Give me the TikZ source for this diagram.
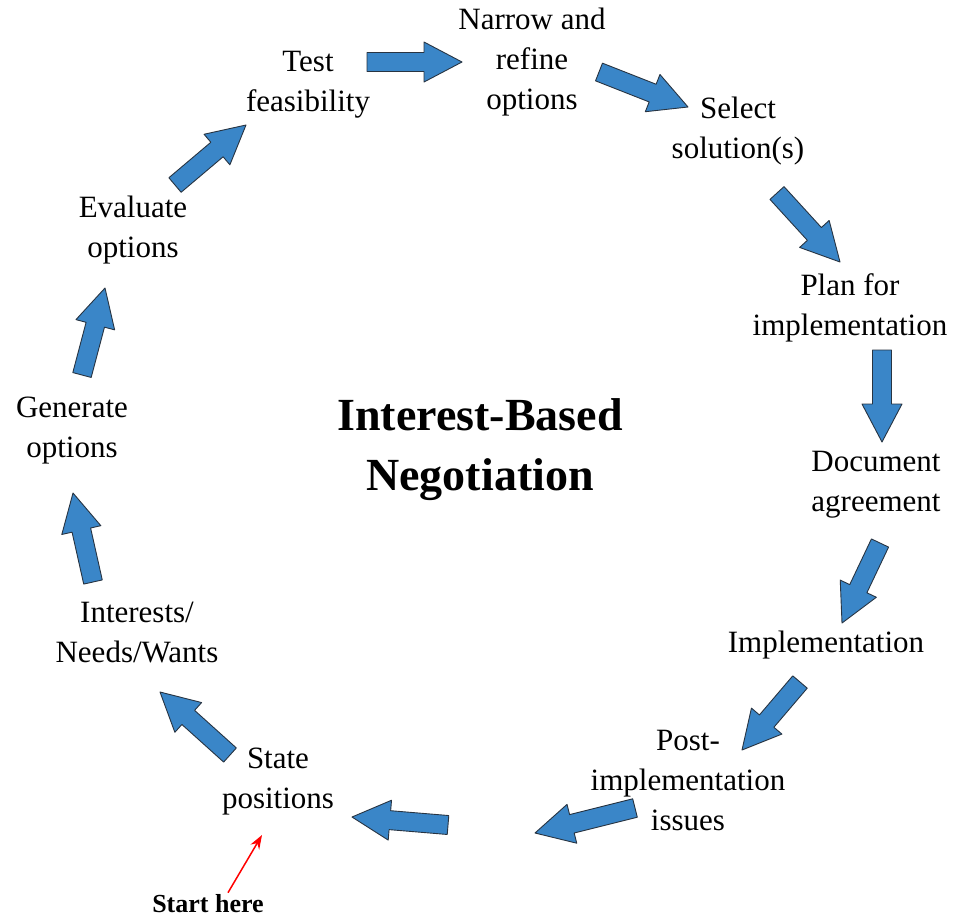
\documentclass[tikz,border=0pt]{standalone}
\usepackage{fontspec}
\setmainfont{Liberation Serif}
\usetikzlibrary{calc,arrows.meta}
\definecolor{arrowblue}{RGB}{58,134,200}
\definecolor{arrowedge}{RGB}{40,52,66}
\tikzset{
  lbl/.style={align=center,inner sep=0pt,font=\fontsize{31}{40}\selectfont},
  titletext/.style={align=center,inner sep=0pt,font=\fontsize{46}{60}\selectfont\bfseries},
  blockarrow/.style={fill=arrowblue,draw=arrowedge,line width=0.9pt,line join=round},
}
% block arrow from tail coordinate #1 to tip coordinate #2
\newcommand\barrow[2]{%
  \coordinate (hb) at ($(#2)!38pt!(#1)$);
  \draw[blockarrow]
    ($(#1)!9.5pt!90:(#2)$) -- ($(hb)!9.5pt!90:(#2)$) -- ($(hb)!20pt!90:(#2)$)
    -- (#2) -- ($(hb)!20pt!-90:(#2)$) -- ($(hb)!9.5pt!-90:(#2)$)
    -- ($(#1)!9.5pt!-90:(#2)$) -- cycle;}
\begin{document}
\begin{tikzpicture}[x=1pt,y=-1pt]
\useasboundingbox (0,0) rectangle (961,922);
\fill[white] (0,0) rectangle (961,922);

\node[lbl] (test) at (308,85) {Test\\feasibility};
\node[lbl] (narrow) at (532,62) {Narrow and\\refine\\options};
\node[lbl] (select) at (738,131) {Select\\solution(s)};
\node[lbl] (plan) at (850,308) {Plan for\\implementation};
\node[lbl] (doc) at (876,485) {Document\\agreement};
\node[lbl] (impl) at (826,645) {Implementation};
\node[lbl] (post) at (688,780) {Post-\\implementation\\issues};
\node[lbl] (state) at (278,782) {State\\positions};
\node[lbl] (interests) at (137,633) {Interests/\\Needs/Wants};
\node[lbl] (generate) at (72,431) {Generate\\options};
\node[lbl] (evaluate) at (133,230) {Evaluate\\options};
\node[titletext] (title) at (480,450) {Interest-Based\\Negotiation};
\node[inner sep=0pt,font=\fontsize{26}{30}\selectfont\bfseries] (start) at (208,904) {Start here};

\coordinate (t1) at (367,62);  \coordinate (h1) at (462,62);
\coordinate (t2) at (599,72);  \coordinate (h2) at (688,107);
\coordinate (t3) at (777,193); \coordinate (h3) at (840,262);
\coordinate (t4) at (882,350); \coordinate (h4) at (882,442);
\coordinate (t5) at (880,543); \coordinate (h5) at (842,623);
\coordinate (t6) at (800,682); \coordinate (h6) at (742,750);
\coordinate (t7) at (635,808); \coordinate (h7) at (535,833);
\coordinate (t8) at (448,825); \coordinate (h8) at (352,817);
\coordinate (t9) at (230,755); \coordinate (h9) at (160,692);
\coordinate (t10) at (93,582); \coordinate (h10) at (73,493);
\coordinate (t11) at (82,375); \coordinate (h11) at (105,288);
\coordinate (t12) at (175,185); \coordinate (h12) at (246,125);

\barrow{t1}{h1}
\barrow{t2}{h2}
\barrow{t3}{h3}
\barrow{t4}{h4}
\barrow{t5}{h5}
\barrow{t6}{h6}
\barrow{t7}{h7}
\barrow{t8}{h8}
\barrow{t9}{h9}
\barrow{t10}{h10}
\barrow{t11}{h11}
\barrow{t12}{h12}

\coordinate (redtip) at (262,835);
\draw[red,line width=1.5pt,-{Stealth[length=14pt,width=10pt]}] ($(start.north)+(20,-2)$) -- (redtip);
\end{tikzpicture}
\end{document}
